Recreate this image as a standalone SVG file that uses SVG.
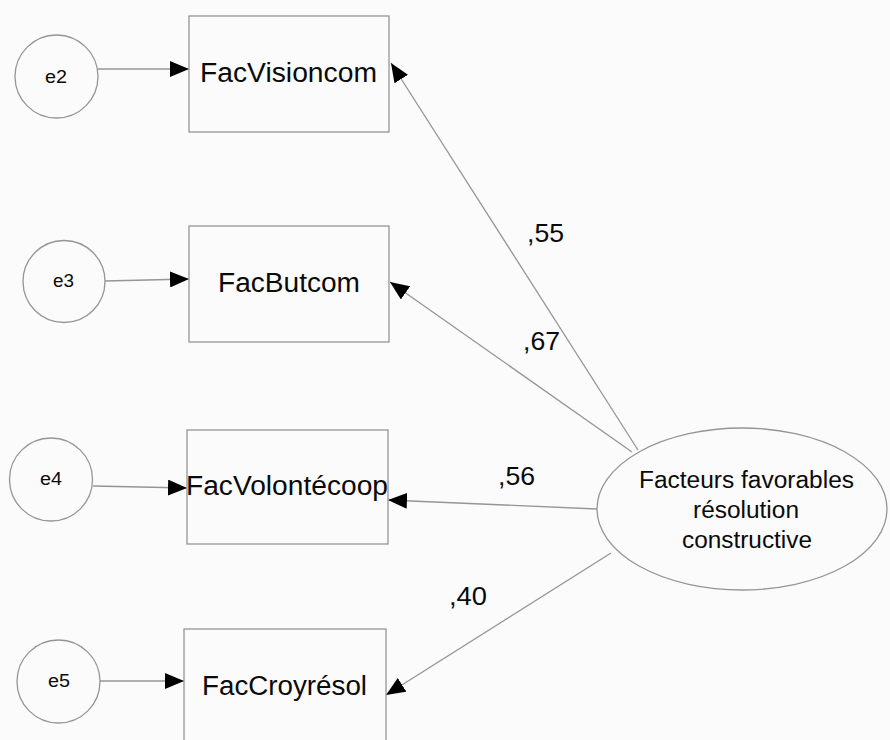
<svg xmlns="http://www.w3.org/2000/svg" width="890" height="740" viewBox="0 0 890 740">
<style>
.bg{fill:#fbfbfb}
.box{fill:#fbfbfb;stroke:#959595;stroke-width:1.3}
.err{fill:#fbfbfb;stroke:#959595;stroke-width:1.3}
.lat{fill:#fbfbfb;stroke:#959595;stroke-width:1.3}
.edge{stroke:#959595;stroke-width:1.3;fill:none;marker-end:url(#arr)}
text{font-family:"Liberation Sans",Arial,sans-serif;fill:#0a0a0a}
.lb{font-size:27px;text-anchor:start}
.el{font-size:18px;text-anchor:middle}
.lt{font-size:23px;text-anchor:middle}
.coef{font-size:25px}
</style>
<defs>
<marker id="arr" markerUnits="userSpaceOnUse" markerWidth="20" markerHeight="16" refX="19" refY="8" orient="auto">
<path d="M0,0 L19,8 L0,16 z" fill="#000"/>
</marker>
</defs>
<rect class="bg" x="0" y="0" width="890" height="740"/>

<g id="connectors">
<line class="edge" x1="98" y1="69" x2="189" y2="69"/>
<line class="edge" x1="105" y1="281" x2="189" y2="279"/>
<line class="edge" x1="93" y1="486" x2="187" y2="488"/>
<line class="edge" x1="100" y1="681" x2="184" y2="681"/>
<line class="edge" x1="638" y1="450" x2="391" y2="63"/>
<line class="edge" x1="632" y1="452" x2="390" y2="282"/>
<line class="edge" x1="597" y1="509" x2="388" y2="500"/>
<line class="edge" x1="611" y1="553" x2="386" y2="695"/>
<text class="coef" x="527" y="242" textLength="37" lengthAdjust="spacingAndGlyphs">,55</text>
<text class="coef" x="523" y="350" textLength="37" lengthAdjust="spacingAndGlyphs">,67</text>
<text class="coef" x="498" y="485" textLength="37" lengthAdjust="spacingAndGlyphs">,56</text>
<text class="coef" x="449" y="605" textLength="38" lengthAdjust="spacingAndGlyphs">,40</text>
</g>

<g id="FacVisioncom">
<rect class="box" x="189" y="16" width="200" height="116"/>
<text class="lb" x="200" y="82" textLength="177" lengthAdjust="spacingAndGlyphs">FacVisioncom</text>
</g>
<g id="FacButcom">
<rect class="box" x="189" y="226" width="200" height="116"/>
<text class="lb" x="218" y="292" textLength="142" lengthAdjust="spacingAndGlyphs">FacButcom</text>
</g>
<g id="FacVolontecoop">
<rect class="box" x="187" y="430" width="201" height="114"/>
<text class="lb" x="186" y="495" textLength="202" lengthAdjust="spacingAndGlyphs">FacVolontécoop</text>
</g>
<g id="FacCroyresol">
<rect class="box" x="184" y="629" width="202" height="130"/>
<text class="lb" x="202" y="695" textLength="165" lengthAdjust="spacingAndGlyphs">FacCroyrésol</text>
</g>

<g id="e2">
<circle class="err" cx="56.5" cy="76.5" r="41.5"/>
<text class="el" x="56" y="83" textLength="22" lengthAdjust="spacingAndGlyphs">e2</text>
</g>
<g id="e3">
<circle class="err" cx="64" cy="281.5" r="41"/>
<text class="el" x="63.5" y="287" textLength="21" lengthAdjust="spacingAndGlyphs">e3</text>
</g>
<g id="e4">
<circle class="err" cx="51" cy="479.5" r="41.5"/>
<text class="el" x="51" y="485" textLength="22" lengthAdjust="spacingAndGlyphs">e4</text>
</g>
<g id="e5">
<circle class="err" cx="58.5" cy="681.5" r="41.5"/>
<text class="el" x="59" y="687" textLength="22" lengthAdjust="spacingAndGlyphs">e5</text>
</g>

<g id="latent">
<ellipse class="lat" cx="742" cy="509" rx="145" ry="81"/>
<text class="lt" x="746.5" y="488" textLength="215" lengthAdjust="spacingAndGlyphs">Facteurs favorables</text>
<text class="lt" x="746" y="518" textLength="106" lengthAdjust="spacingAndGlyphs">résolution</text>
<text class="lt" x="747" y="548" textLength="130" lengthAdjust="spacingAndGlyphs">constructive</text>
</g>
</svg>
